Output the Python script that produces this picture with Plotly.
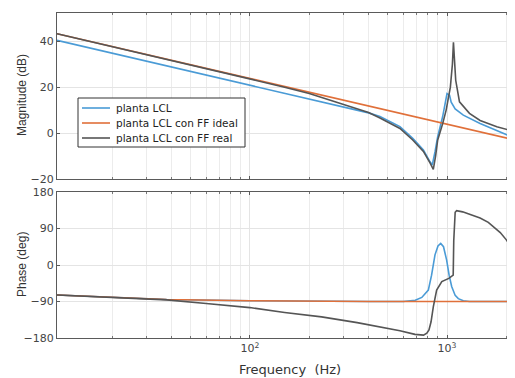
import math
import plotly.graph_objects as go

# ---------------- data ----------------
# Magnitude (dB)
f_mag_blue = [10.5, 20, 50, 100, 200, 300, 400, 457, 577, 670, 759, 820, 842, 870, 897,
              950, 985, 1000, 1030, 1050, 1100, 1210, 1472, 1800, 2213]
mag_blue = [40.4, 34.8, 26.9, 20.8, 14.8, 11.3, 8.8, 7.2, 2.8, -2.3, -7.4, -12.5, -13.9, -8.0, -1.6,
            7.1, 14.0, 17.2, 16.5, 13.5, 10.5, 7.8, 4.2, 1.0, -2.3]

f_mag_red = [10.5, 100, 1000, 2213]
mag_red = [43.3, 23.7, 3.7, -3.0]

f_mag_black = [10.5, 20, 50, 100, 150, 200, 280, 400, 457, 577, 670, 759, 820, 852, 875, 897,
               950, 990, 1040, 1065, 1078, 1090, 1107, 1157, 1300, 1472, 1790, 2213]
mag_black = [43.3, 37.7, 29.8, 23.6, 20.0, 17.2, 13.3, 9.0, 6.6, 2.0, -3.0, -8.0, -13.0, -15.8, -10.0, -3.0,
             4.0, 10.0, 20.0, 30.0, 39.5, 30.0, 23.0, 13.6, 8.6, 5.5, 2.8, 0.6]

# Phase (deg)
f_ph_blue = [10.5, 20, 37.8, 100, 200, 400, 600, 690, 745, 804, 835, 869, 900, 929, 960,
             996, 1025, 1056, 1100, 1141, 1210, 1300, 2213]
ph_blue = [-74, -80, -85, -88, -89.5, -90, -90, -87, -80, -62, -25, 25, 47, 53, 45,
           12, -25, -53, -75, -83, -88, -90, -90]

f_ph_red = [10.5, 20, 37.8, 100, 200, 400, 2213]
ph_red = [-74, -80, -85, -88, -89.5, -90, -90]

f_ph_black = [10.5, 20, 37.8, 60, 100, 150, 231, 350, 503, 577, 688, 760, 790, 810, 830, 852,
              886, 941, 1021, 1056, 1075, 1082, 1090, 1100, 1119, 1200, 1334, 1472, 1620,
              1863, 2000, 2213]
ph_black = [-74, -80, -86, -95, -105, -117, -128, -142, -156, -162, -171, -173, -168, -160, -140, -103,
            -62, -41, -33, -29, -25, 60, 120, 130, 134, 131, 123, 116, 105,
            80, 62, 31]

names = ["planta LCL", "planta LCL con FF ideal", "planta LCL con FF real"]
colors = ["#4a9bd6", "#e0703a", "#555555"]

mag_ticks = [-20, 0, 20, 40]
ph_ticks = [-180, -90, 0, 90, 180]
major_freqs = [100, 1000]
major_text = ["10<sup>2</sup>", "10<sup>3</sup>"]
minor_freqs = [20, 30, 40, 50, 60, 70, 80, 90, 200, 300, 400, 500, 600, 700, 800, 900, 2000]

# ---------------- geometry (screen px; page body has an 8px margin) ----------------
OFF = 8
SW, SH = 515, 378
PX0, PX1, PY0, PY1 = 57, 515, 13, 338       # plot area on screen
W, H = SW - OFF, SH - OFF
L, R, T, B = PX0 - OFF, SW - PX1, PY0 - OFF, SH - PY1
pw, ph = PX1 - PX0, PY1 - PY0

def px(x):
    return (x - PX0) / pw

def py(y):
    return (PY1 - y) / ph

fig = go.Figure()
mag_sets = [(f_mag_blue, mag_blue), (f_mag_red, mag_red), (f_mag_black, mag_black)]
ph_sets = [(f_ph_blue, ph_blue), (f_ph_red, ph_red), (f_ph_black, ph_black)]
for i, (fx, fy) in enumerate(mag_sets):
    fig.add_trace(go.Scatter(x=fx, y=fy, mode="lines", name=names[i],
                             line=dict(color=colors[i], width=1.6),
                             xaxis="x", yaxis="y", showlegend=False))
for i, (fx, fy) in enumerate(ph_sets):
    fig.add_trace(go.Scatter(x=fx, y=fy, mode="lines", name=names[i],
                             line=dict(color=colors[i], width=1.6),
                             xaxis="x2", yaxis="y2", showlegend=False))

xr = [math.log10(10.5), math.log10(2213)]
tickfont = dict(family="DejaVu Sans", size=11, color="#444444")
axcommon = dict(showline=True, linecolor="#5a5a5a", linewidth=1, gridcolor="#e4e4e4",
                ticks="inside", ticklen=3, tickcolor="#5a5a5a", tickfont=tickfont, zeroline=False)
minor = dict(tickmode="array", tickvals=minor_freqs, ticks="inside", ticklen=2,
             tickcolor="#777777", showgrid=True, gridcolor="#ececec")

top_dom = [py(179), 1.0]
bot_dom = [0.0, py(192)]

fig.update_layout(
    width=W, height=H, margin=dict(l=L, r=R, t=T, b=B),
    paper_bgcolor="white", plot_bgcolor="white",
    xaxis=dict(type="log", range=xr, domain=[0, 1], anchor="y", tickvals=major_freqs,
               showticklabels=False, mirror="ticks", minor=minor, **axcommon),
    yaxis=dict(range=[-20, 52.3], domain=top_dom, anchor="x", tickvals=mag_ticks, mirror=False, **axcommon),
    xaxis2=dict(type="log", range=xr, domain=[0, 1], anchor="y2", tickvals=major_freqs,
                ticktext=major_text, mirror="ticks", minor=minor, **axcommon),
    yaxis2=dict(range=[-180, 180], domain=bot_dom, anchor="x2", tickvals=ph_ticks, mirror=False, **axcommon),
    showlegend=False,
)

# axis titles
yfont = dict(family="Liberation Sans", size=12, color="#333333")
xfont = dict(family="DejaVu Sans", size=13, color="#333333")
fig.add_annotation(text="Magnitude (dB)", xref="paper", yref="paper", x=px(22), y=py(95),
                   textangle=-90, showarrow=False, font=yfont, xanchor="center", yanchor="middle")
fig.add_annotation(text="Phase (deg)", xref="paper", yref="paper", x=px(22), y=py(265),
                   textangle=-90, showarrow=False, font=yfont, xanchor="center", yanchor="middle")
fig.add_annotation(text="Frequency  (Hz)", xref="paper", yref="paper", x=px(290), y=py(369),
                   showarrow=False, font=xfont, xanchor="center", yanchor="middle")

# legend box (drawn by hand to match the compact MATLAB legend)
fig.add_shape(type="rect", xref="paper", yref="paper", x0=px(78), x1=px(245), y0=py(147), y1=py(98),
              fillcolor="white", line=dict(color="#333333", width=1))
lfont = dict(family="DejaVu Sans", size=10.5, color="#222222")
for i, yy in enumerate([108, 123, 138]):
    fig.add_shape(type="line", xref="paper", yref="paper", x0=px(82), x1=px(110), y0=py(yy), y1=py(yy),
                  line=dict(color=colors[i], width=1.6))
    fig.add_annotation(text=names[i], xref="paper", yref="paper", x=px(114), y=py(yy),
                       showarrow=False, font=lfont, xanchor="left", yanchor="middle")

fig.write_html("out.html")
